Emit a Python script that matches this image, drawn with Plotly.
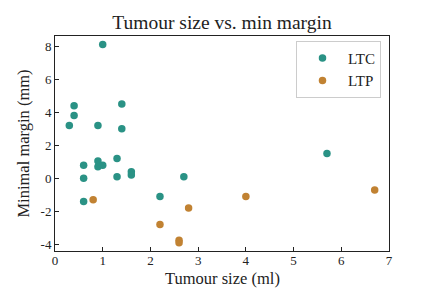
import plotly.graph_objects as go

ltc_size = [1.0, 0.4, 1.4, 0.4, 0.3, 0.9, 1.4, 1.3, 0.9, 0.9, 1.0, 0.6, 0.6, 1.3, 1.6, 1.6, 2.7, 2.2, 0.6, 5.7]
ltc_margin = [8.1, 4.4, 4.5, 3.8, 3.2, 3.2, 3.0, 1.2, 1.05, 0.7, 0.8, 0.8, 0.0, 0.1, 0.4, 0.2, 0.1, -1.1, -1.4, 1.5]
ltp_size = [0.8, 2.8, 2.2, 2.6, 2.6, 4.0, 6.7]
ltp_margin = [-1.3, -1.8, -2.8, -3.75, -3.9, -1.1, -0.7]

x_ticks = [0, 1, 2, 3, 4, 5, 6, 7]
y_ticks = [-4, -2, 0, 2, 4, 6, 8]
y_tick_text = ["-4", "-2", "0", "2", "4", "6", "8"]

TEAL = "#2a9285"
ORANGE = "#c18232"
FONT = "Liberation Serif"

fig = go.Figure()
fig.add_trace(go.Scatter(x=ltc_size, y=ltc_margin, mode="markers", name="LTC",
                         marker=dict(color=TEAL, size=7.5, line=dict(width=0))))
fig.add_trace(go.Scatter(x=ltp_size, y=ltp_margin, mode="markers", name="LTP",
                         marker=dict(color=ORANGE, size=7.5, line=dict(width=0))))

axis_common = dict(showgrid=False, zeroline=False, showline=True, linecolor="#222",
                   linewidth=1, mirror=True, ticks="inside", ticklen=4, tickwidth=0.8,
                   tickcolor="#222", automargin=False,
                   tickfont=dict(family=FONT, size=13, color="#222"))

# The page body adds an 8px offset; margins compensate for it.
fig.update_layout(
    width=432, height=288,
    margin=dict(l=46.5, r=50.7, t=27.5, b=45, autoexpand=False),
    paper_bgcolor="white", plot_bgcolor="white",
    title=dict(text="Tumour size vs. min margin", x=0.5, xref="paper", xanchor="center",
               y=0.951, yanchor="middle", yref="container",
               font=dict(family=FONT, size=19.5, color="#222")),
    xaxis=dict(range=[0, 7], tickvals=x_ticks, ticklabelstandoff=-3, **axis_common),
    yaxis=dict(range=[-4.4, 8.62], tickvals=y_ticks, ticktext=y_tick_text,
               title=dict(text="Minimal margin (mm)", font=dict(family=FONT, size=16.5, color="#222"), standoff=6),
               **axis_common),
    legend=dict(x=0.976, xanchor="right", y=0.978, yanchor="top",
                bordercolor="#cccccc", borderwidth=1, bgcolor="rgba(255,255,255,0.8)",
                font=dict(family=FONT, size=15, color="#222"), itemwidth=41),
    showlegend=True,
)
fig.add_annotation(text="Tumour size (ml)", xref="paper", yref="paper", x=0.5, y=0,
                   xanchor="center", yanchor="middle", yshift=-27.5, showarrow=False,
                   font=dict(family=FONT, size=16.5, color="#222"))

fig.write_html("out.html")
